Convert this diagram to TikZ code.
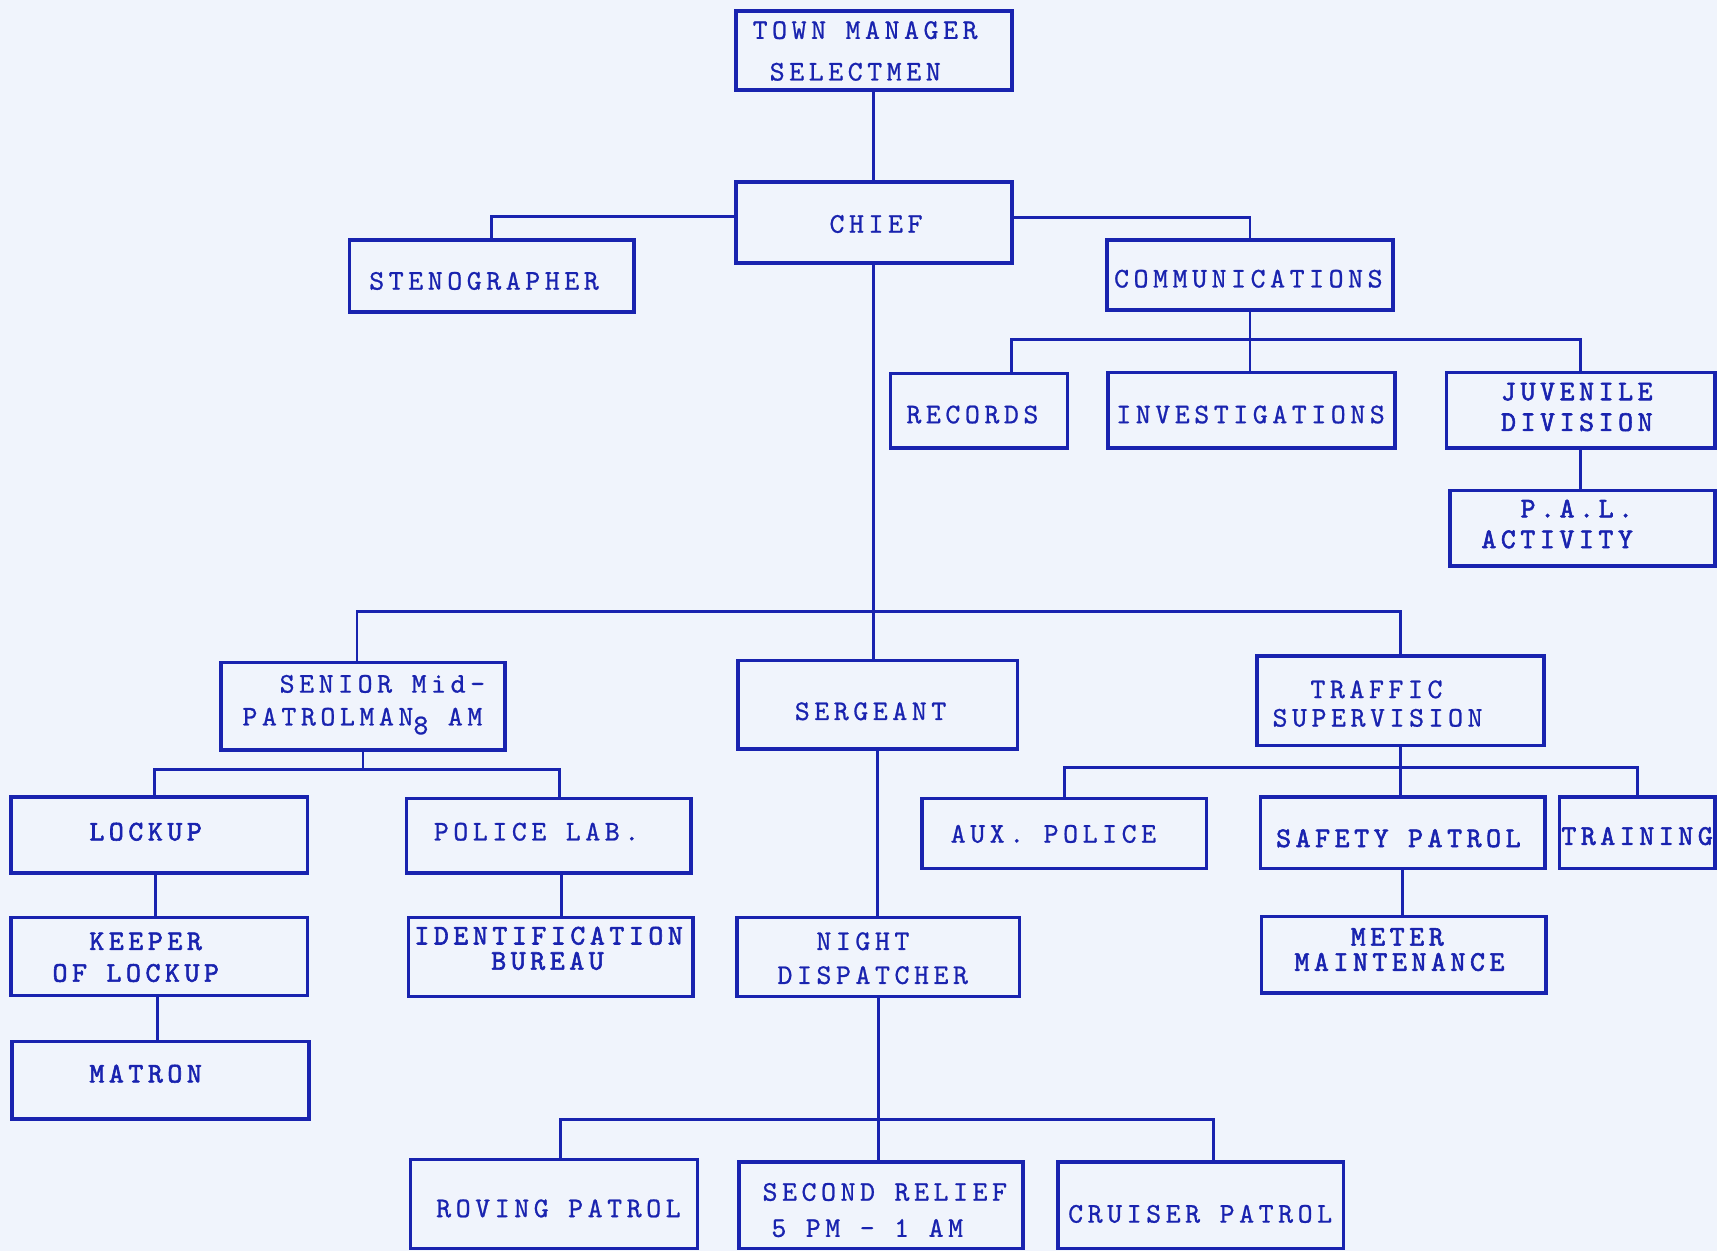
\documentclass[tikz,border=0pt]{standalone}
\usepackage{fontspec}
\usetikzlibrary{fit}
\newfontfamily\tw{lmmono10-regular.otf}[LetterSpace=16,FakeBold=0.8]
\newfontfamily\twb{lmmono10-regular.otf}[LetterSpace=16,FakeBold=2]
\definecolor{ink}{RGB}{25,35,175}
\definecolor{paper}{RGB}{240,244,252}
\tikzset{
  box/.style={draw=ink, line width=1.6pt, inner sep=0pt},
  txt/.style={text=ink, font=\tw\fontsize{13}{15}\selectfont, inner sep=0pt, text height=7.5pt, text depth=0pt},
  btxt/.style={txt, font=\twb\fontsize{13}{15}\selectfont},
  link/.style={draw=ink, line width=1.35pt}
}
\begin{document}
\begin{tikzpicture}[x=0.5pt,y=-0.5pt]
\fill[paper] (0,0) rectangle (1568,1142);
\useasboundingbox (0,0) rectangle (1568,1142);
% boxes
\node[box, fit={(672,10) (924,82)}] (tm) {};
\node[box, fit={(672,166) (924,240)}] (chief) {};
\node[box, fit={(319,219) (579,285)}] (steno) {};
\node[box, fit={(1011,219) (1272,283)}] (comm) {};
\node[box, fit={(813,341) (975,409)}] (rec) {};
\node[box, fit={(1012,340) (1274,409)}] (inv) {};
\node[box, fit={(1321,340) (1566,409)}] (juv) {};
\node[box, fit={(1324,448) (1566,517)}] (pal) {};
\node[box, fit={(202,605) (461,685)}] (senior) {};
\node[box, fit={(674,603) (929,684)}] (serg) {};
\node[box, fit={(1148,599) (1410,681)}] (traffic) {};
\node[box, fit={(10,728) (281,797)}] (lockup) {};
\node[box, fit={(371,729) (631,797)}] (polab) {};
\node[box, fit={(842,729) (1102,793)}] (aux) {};
\node[box, fit={(1151,728) (1411,793)}] (safety) {};
\node[box, fit={(1424,728) (1566,793)}] (training) {};
\node[box, fit={(10,838) (281,909)}] (keeper) {};
\node[box, fit={(373,838) (633,910)}] (ident) {};
\node[box, fit={(673,838) (931,910)}] (night) {};
\node[box, fit={(1152,837) (1412,907)}] (meter) {};
\node[box, fit={(11,951) (282,1022)}] (matron) {};
\node[box, fit={(375,1059) (637,1140)}] (roving) {};
\node[box, fit={(675,1061) (934,1140)}] (second) {};
\node[box, fit={(966,1061) (1227,1140)}] (cruiser) {};
% texts
\node[txt] (t1) at (790,28) {TOWN MANAGER};
\node[txt] (t2) at (781,66) {SELECTMEN};
\node[txt] (t3) at (800,205) {CHIEF};
\node[txt] (t4) at (442,257) {STENOGRAPHER};
\node[txt] (t5) at (1140,255) {COMMUNICATIONS};
\node[txt] (t6) at (888,379) {RECORDS};
\node[txt] (t7) at (1142,379) {INVESTIGATIONS};
\node[btxt] (t8) at (1440,358) {JUVENILE};
\node[btxt] (t9) at (1440,386) {DIVISION};
\node[btxt] (t10) at (1440,465) {P.A.L.};
\node[btxt] (t11) at (1422,493) {ACTIVITY};
\node[txt, anchor=west] (t12) at (255,625) {SENIOR Mid-};
\node[txt, anchor=west] (t13) at (221,655) {PATROLMAN\raisebox{-4pt}{8} AM};
\node[txt] (t14) at (795,650) {SERGEANT};
\node[txt] (t15) at (1257,630) {TRAFFIC};
\node[txt] (t16) at (1258,656) {SUPERVISION};
\node[btxt] (t17) at (133,760) {LOCKUP};
\node[txt] (t18) at (490,760) {POLICE LAB.};
\node[txt] (t19) at (962,762) {AUX. POLICE};
\node[btxt] (t20) at (1277,766) {SAFETY PATROL};
\node[btxt] (t21) at (1495,764) {TRAINING};
\node[btxt] (t22) at (133,860) {KEEPER};
\node[btxt] (t23) at (124,889) {OF LOCKUP};
\node[btxt] (t24) at (501,855) {IDENTIFICATION};
\node[btxt] (t25) at (500,878) {BUREAU};
\node[txt] (t26) at (788,860) {NIGHT};
\node[txt] (t27) at (797,891) {DISPATCHER};
\node[btxt] (t28) at (1276,856) {METER};
\node[btxt] (t29) at (1278,879) {MAINTENANCE};
\node[btxt] (t30) at (133,981) {MATRON};
\node[txt] (t31) at (510,1104) {ROVING PATROL};
\node[txt] (t32) at (808,1089) {SECOND RELIEF};
\node[txt] (t33) at (792,1122) {5 PM - 1 AM};
\node[txt] (t34) at (1096,1109) {CRUISER PATROL};
% connectors
\draw[link] (tm.south) -- (chief.north);
\draw[link] (chief.west |- 0,198) -| (steno.north);
\draw[link] (chief.east |- 0,199) -| (comm.north);
\draw[link] (comm.south) -- (inv.north -| comm.south);
\draw[link] (rec.north -| 924,0) |- (juv.north |- 0,310) -- (juv.north);
\draw[link] (juv.south) -- (pal.north -| juv.south);
\draw[link] (chief.south) -- (serg.north -| chief.south);
\draw[link] (senior.north -| 326,0) |- (traffic.north |- 0,558) -- (traffic.north);
\draw[link] (senior.south) -- (senior.south |- 0,703);
\draw[link] (lockup.north -| 141,0) |- (511,703) -- (polab.north -| 511,0);
\draw[link] (lockup.south -| 142,0) -- (keeper.north -| 142,0);
\draw[link] (keeper.south -| 144,0) -- (matron.north -| 144,0);
\draw[link] (polab.south -| 513,0) -- (ident.north -| 513,0);
\draw[link] (serg.south) -- (night.north -| serg.south);
\draw[link] (traffic.south) -- (safety.north -| traffic.south);
\draw[link] (aux.north) |- (training.north |- 0,701) -- (training.north);
\draw[link] (safety.south) -- (meter.north -| safety.south);
\draw[link] (night.south) -- (second.north -| night.south);
\draw[link] (roving.north -| 512,0) |- (1108,1022) -- (cruiser.north -| 1108,0);
\end{tikzpicture}
\end{document}
